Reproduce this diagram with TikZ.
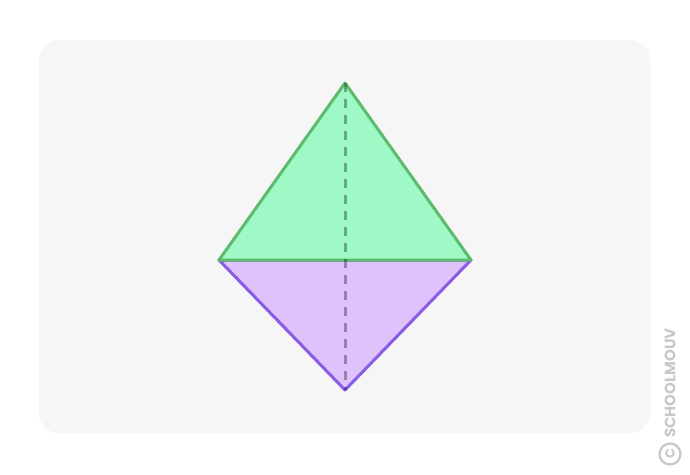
\documentclass[tikz,border=0pt]{standalone}
\usepackage{fontspec}
\newfontfamily\wmfont{Poppins Bold}
\definecolor{bgpanel}{HTML}{F6F6F6}
\definecolor{gfill}{HTML}{9FF9C7}
\definecolor{gline}{HTML}{5CBB6C}
\definecolor{pfill}{HTML}{DDC2FC}
\definecolor{pline}{HTML}{8A5CE6}
\definecolor{wm}{HTML}{C8C8C8}
\begin{document}
\begin{tikzpicture}[x=1pt,y=-1pt,
  edge/.style={line width=3pt,line join=round,line cap=round},
  hidden/.style={line width=3pt,dash pattern=on 9pt off 7pt,draw=black,draw opacity=0.33}]
\useasboundingbox (0,0) rectangle (690,474);
\fill[white] (0,0) rectangle (690,474);
\fill[bgpanel,rounded corners=20pt] (39,40) rectangle (650,433);
\coordinate (A) at (345,83);
\coordinate (L) at (219,260);
\coordinate (R) at (471,260);
\coordinate (B) at (345,390);
\filldraw[fill=pfill,draw=pline,edge] (L) -- (B) -- (R) -- cycle;
\filldraw[fill=gfill,draw=gline,edge] (A) -- (L) -- (R) -- cycle;
\draw[hidden] (A) -- (B);
\node[text=wm,rotate=90,anchor=west,font=\wmfont\fontsize{15}{15}\selectfont,inner sep=0pt] (wmtext) at (670,438) {SCHOOLMOUV};
\node[draw=wm,line width=2.2pt,circle,minimum size=21pt,inner sep=0pt,text=wm,font=\wmfont\fontsize{13}{13}\selectfont] (copy) at (670,454) {\rotatebox{90}{C}};
\end{tikzpicture}
\end{document}
